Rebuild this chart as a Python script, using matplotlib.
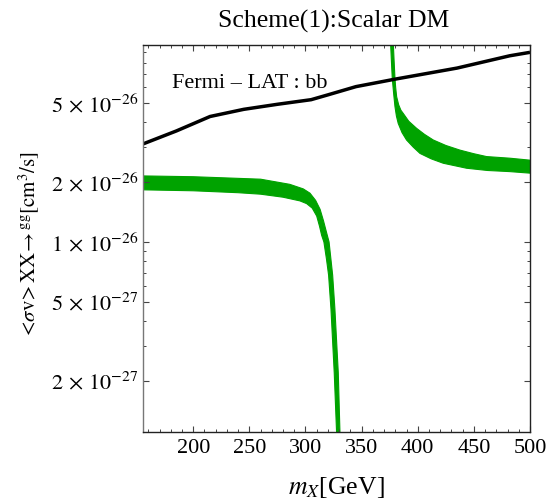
import numpy as np
import matplotlib
matplotlib.use("Agg")
import matplotlib.pyplot as plt
from matplotlib.ticker import FixedLocator, FixedFormatter, MultipleLocator

plt.rcParams['font.family'] = ['Liberation Serif', 'DejaVu Serif']
plt.rcParams['mathtext.fontset'] = 'stix'

# limite Fermi-LAT (bb)
fermi_m = [155, 185, 215, 245, 275, 305, 320, 345, 380, 435, 482, 500]
fermi_sv = [3.11e-26, 3.62e-26, 4.28e-26, 4.65e-26, 4.93e-26, 5.2e-26, 5.5e-26,
            6.05e-26, 6.6e-26, 7.5e-26, 8.65e-26, 9.0e-26]

# faixa verde, ramo esquerdo (borda superior/direita e inferior/esquerda)
left_up_m = [155, 200, 240, 260, 286, 298, 304, 309, 313, 316, 318.5, 321, 324.2, 326.2,
             329.2, 330.7, 331.3]
left_up_sv = [2.15e-26, 2.13e-26, 2.09e-26, 2.07e-26, 1.95e-26, 1.85e-26, 1.76e-26,
              1.62e-26, 1.46e-26, 1.28e-26, 1.13e-26, 1.0e-26, 6.8e-27, 4.6e-27,
              2.2e-27, 1.1e-27, 1.0e-27]
left_lo_m = [155, 200, 240, 260, 280, 295, 301, 306, 310, 312.5, 314.4, 316.4, 318.7,
             320.6, 322.7, 325.6, 327.7, 328.3]
left_lo_sv = [1.83e-26, 1.81e-26, 1.77e-26, 1.74e-26, 1.68e-26, 1.61e-26, 1.56e-26,
              1.48e-26, 1.35e-26, 1.2e-26, 1.08e-26, 1.0e-26, 8.2e-27, 6.8e-27,
              4.6e-27, 2.2e-27, 1.1e-27, 1.0e-27]

# faixa verde, ramo direito
right_up_m = [378.2, 379.0, 379.7, 380.3, 381.2, 383, 385, 387, 392, 399, 406, 413.8,
              425, 437.5, 450, 461.3, 482, 500]
right_up_sv = [1.0e-25, 8.0e-26, 6.66e-26, 6.0e-26, 5.38e-26, 4.9e-26, 4.6e-26, 4.44e-26,
               4.05e-26, 3.73e-26, 3.48e-26, 3.26e-26, 3.06e-26, 2.90e-26, 2.78e-26,
               2.69e-26, 2.64e-26, 2.58e-26]
right_lo_m = [375.8, 376.6, 377.3, 378.5, 379.7, 381, 382.6, 386, 390, 396, 402, 412,
              422.7, 443.5, 462, 482, 500]
right_lo_sv = [1.0e-25, 8.0e-26, 6.66e-26, 5.6e-26, 4.8e-26, 4.3e-26, 3.95e-26, 3.55e-26,
               3.26e-26, 3.0e-26, 2.79e-26, 2.62e-26, 2.49e-26, 2.35e-26, 2.29e-26,
               2.26e-26, 2.22e-26]

y_ticks = [2e-27, 5e-27, 1e-26, 2e-26, 5e-26]
y_labels = [r'$2\,\times\,10^{-27}$', r'$5\,\times\,10^{-27}$', r'$1\,\times\,10^{-26}$',
            r'$2\,\times\,10^{-26}$', r'$5\,\times\,10^{-26}$']
x_ticks = [200, 250, 300, 350, 400, 450, 500]

verde = '#00a300'

fig = plt.figure(figsize=(5.48, 5.01), dpi=100)
ax = fig.add_axes([0.2604, 0.1383, 0.7068, 0.7719])

ax.fill(left_up_m + left_lo_m[::-1], left_up_sv + left_lo_sv[::-1], color=verde, lw=0.8)
ax.fill(right_up_m + right_lo_m[::-1], right_up_sv + right_lo_sv[::-1], color=verde, lw=0.8)
ax.plot(fermi_m, fermi_sv, color='black', lw=2.5, solid_capstyle='butt', solid_joinstyle='round')

ax.set_yscale('log')
ax.set_xlim(155, 500)
ax.set_ylim(1.11e-27, 9.8e-26)

ax.xaxis.set_major_locator(FixedLocator(x_ticks))
ax.xaxis.set_minor_locator(MultipleLocator(10))
ax.yaxis.set_major_locator(FixedLocator(y_ticks))
ax.yaxis.set_major_formatter(FixedFormatter(y_labels))

ax.tick_params(which='both', direction='in', top=True, right=True, labelsize=16)
ax.tick_params(which='major', length=4, width=0.8, color='#444444')
ax.tick_params(which='minor', length=2.2, width=0.7, color='#444444')
ax.tick_params(axis='x', pad=5)
ax.tick_params(axis='y', pad=3)
for s in ax.spines.values():
    s.set_linewidth(1.0)
    s.set_color('#222222')
ax.spines['left'].set_color('#777777')

ax.text(181, 5.95e-26, 'Fermi \u2013 LAT : bb', fontsize=16, va='baseline')

fig.text(0.6095, 0.9455, 'Scheme(1):Scalar DM', fontsize=18.5, ha='center', va='baseline')
fig.text(0.614, 0.014, r'$m_X$[GeV]', fontsize=18.5, ha='center', va='baseline')
ax.set_ylabel(r'$<\!\sigma\mathrm{v}\!>\mathrm{XX}\!\rightarrow^{\mathrm{gg}}[\mathrm{cm}^3/\mathrm{s}]$',
              fontsize=15)
ax.yaxis.set_label_coords(-0.262, 0.483)

plt.savefig('out.png', dpi=100)
